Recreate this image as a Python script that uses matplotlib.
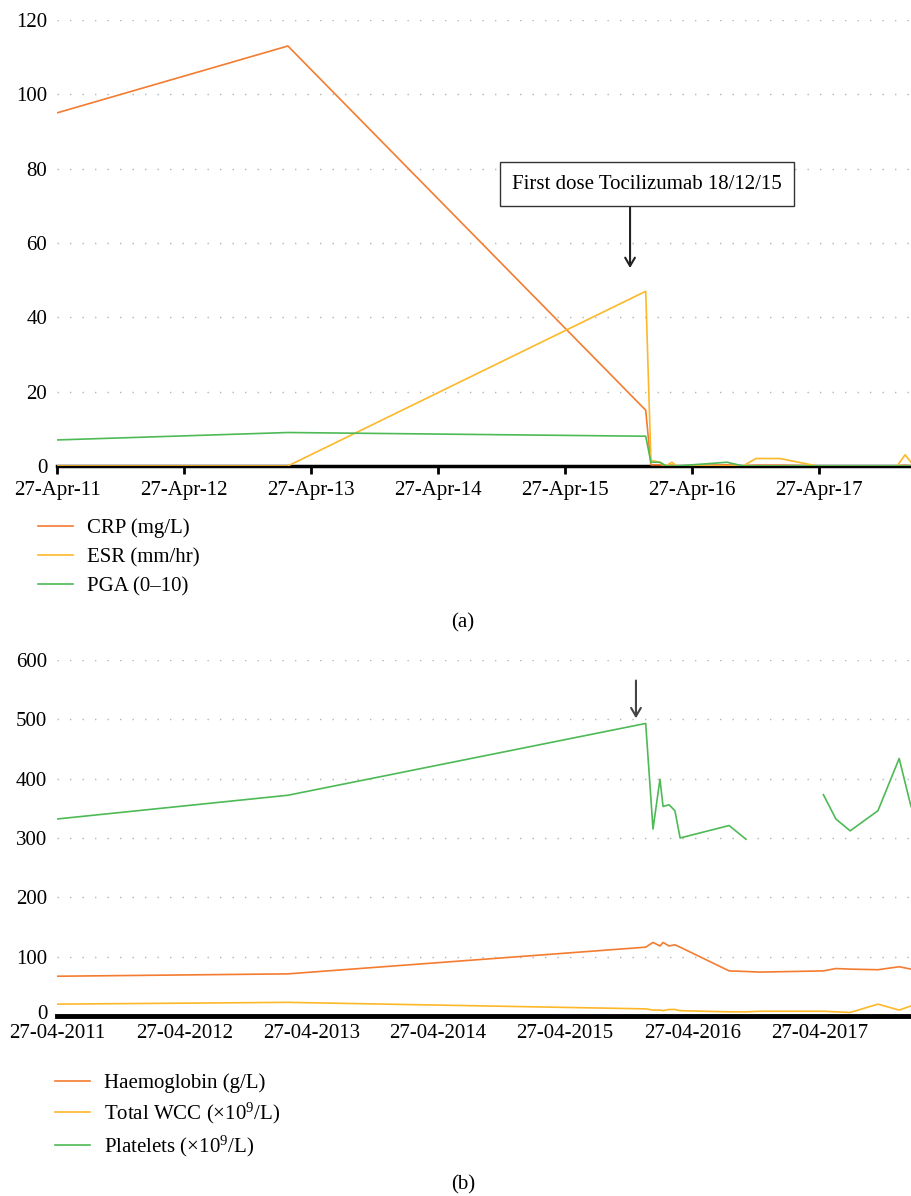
import matplotlib
matplotlib.use("Agg")
import matplotlib.pyplot as plt
import matplotlib.dates as mdates
import matplotlib.transforms as mtrans
import numpy as np
import pandas as pd

plt.rcParams["font.family"] = ["Liberation Serif", "DejaVu Serif"]
plt.rcParams["mathtext.fontset"] = "custom"
plt.rcParams["mathtext.rm"] = "Liberation Serif"
plt.rcParams["mathtext.it"] = "Liberation Serif:italic"

# (a) inflammatory markers
top_dates = ["2011-04-27", "2013-02-19", "2015-12-15", "2015-12-30", "2016-01-25", "2016-02-11",
             "2016-02-28", "2016-03-14", "2016-08-05", "2016-09-20", "2016-10-27", "2017-01-04",
             "2017-04-21", "2017-12-07", "2017-12-30", "2018-01-16"]
crp = [95, 113, 15, 0.3, 0.3, 0, 0.2, 0, 0.3, 0, 0.2, 0.2, 0, 0, 0.2, 0]
esr = [0, 0, 47, 1.5, 1, 0, 1, 0, 0, 0, 2, 2, 0, 0, 3, 1]
pga = [7, 9, 8, 1, 1, 0, 0, 0, 1, 0, 0, 0, 0, 0, 0, 0]

# (b) blood counts
bot_dates = ["2011-04-27", "2013-02-19", "2015-12-15", "2016-01-05", "2016-01-25", "2016-02-03",
             "2016-02-20", "2016-03-08", "2016-03-23", "2016-08-11", "2016-09-28", "2016-11-08",
             "2017-05-09", "2017-06-14", "2017-07-25", "2017-10-13", "2017-12-13", "2018-01-16"]
haemoglobin = [67, 71, 116, 124, 118, 124, 118, 120, 116, 76, 75, 74, 76, 80, 79, 78, 83, 79]
wcc = [20, 23, 12, 10, 10, 9, 11, 11, 9, 7, 7, 8, 8, 7, 6, 20, 10, 17]
platelets = [332, 372, 493, 315, 399, 353, 356, 346, 300, 321, 298, np.nan,
             373, 332, 312, 346, 434, 353]

tick_dates = ["2011-04-27", "2012-04-27", "2013-04-27", "2014-04-27",
              "2015-04-27", "2016-04-27", "2017-04-27"]

c_orange = "#f47c30"
c_yellow = "#fdb829"
c_green = "#4dba55"

top_x = pd.to_datetime(top_dates)
bot_x = pd.to_datetime(bot_dates)
ticks = pd.to_datetime(tick_dates)
x_lo = pd.Timestamp("2011-04-27")
x_hi = pd.Timestamp("2018-01-16")

fig = plt.figure(figsize=(9.11, 11.96), dpi=100)


def style_axis(ax, yticks, fmt):
    ax.set_xlim(x_lo, x_hi)
    ax.set_ylim(yticks[0], yticks[-1])
    ax.set_yticks(yticks)
    ax.set_xticks(ticks)
    ax.xaxis.set_major_formatter(mdates.DateFormatter(fmt))
    for s in ["left", "right", "top"]:
        ax.spines[s].set_visible(False)
    ax.grid(axis="y", color="#b5b5b5", linestyle=(0, (1, 8)), lw=1)
    ax.tick_params(axis="y", length=0, pad=7, labelsize=15)
    ax.set_axisbelow(True)


# ---- panel (a)
ax1 = fig.add_axes([0.0626, 0.6104, 0.9374, 0.3729])
ax1.plot(top_x, crp, color=c_orange, lw=1.2, label="CRP (mg/L)", zorder=3)
ax1.plot(top_x, esr, color=c_yellow, lw=1.2, label="ESR (mm/hr)", zorder=3)
ax1.plot(top_x, pga, color=c_green, lw=1.2, label="PGA (0\u201310)", zorder=3)
style_axis(ax1, list(range(0, 121, 20)), "%d-%b-%y")
ax1.spines["bottom"].set_linewidth(2.5)
ax1.tick_params(axis="x", length=6, width=2, pad=5, labelsize=15)

ax1.text(pd.Timestamp("2015-12-19"), 75.8, "First dose Tocilizumab 18/12/15", fontsize=15,
         ha="center", va="center",
         bbox=dict(boxstyle="square,pad=0.6", fc="white", ec="#333333", lw=1))
ax1.annotate("", xy=(pd.Timestamp("2015-10-31"), 52.5), xytext=(pd.Timestamp("2015-10-31"), 70.3),
             arrowprops=dict(arrowstyle="->,head_length=0.6,head_width=0.35", color="#222222", lw=1.5))

fig.legend(handles=ax1.get_lines(), loc="upper left", bbox_to_anchor=(0.0417, 0.5665),
           frameon=False, fontsize=15, handlelength=1.7, handletextpad=0.65,
           labelspacing=0.45, borderpad=0, borderaxespad=0)
fig.text(0.508, 0.4795, "(a)", fontsize=15, ha="center", va="center")

# ---- panel (b)
ax2 = fig.add_axes([0.0626, 0.1505, 0.9374, 0.2977])
ax2.plot(bot_x, haemoglobin, color=c_orange, lw=1.2, label="Haemoglobin (g/L)", zorder=3)
ax2.plot(bot_x, wcc, color=c_yellow, lw=1.2, label="Total WCC (\u00d710$^{9}$/L)", zorder=3)
ax2.plot(bot_x, platelets, color=c_green, lw=1.2, label="Platelets (\u00d710$^{9}$/L)", zorder=3)
style_axis(ax2, list(range(0, 601, 100)), "%d-%m-%Y")
ax2.spines["bottom"].set_linewidth(3.5)
ax2.tick_params(axis="x", length=0, pad=6, labelsize=15)
# nudge the "0" label up a little so it clears the date labels
zero_lab = ax2.get_yticklabels()[0]
zero_lab.set_transform(zero_lab.get_transform() + mtrans.ScaledTranslation(0, 3 / 72, fig.dpi_scale_trans))

ax2.annotate("", xy=(pd.Timestamp("2015-11-17"), 497), xytext=(pd.Timestamp("2015-11-17"), 570),
             arrowprops=dict(arrowstyle="->,head_length=0.6,head_width=0.35", color="#444444", lw=1.5))

fig.legend(handles=ax2.get_lines(), loc="upper left", bbox_to_anchor=(0.0604, 0.1025),
           frameon=False, fontsize=15, handlelength=1.7, handletextpad=0.65,
           labelspacing=0.38, borderpad=0, borderaxespad=0)
fig.text(0.508, 0.0092, "(b)", fontsize=15, ha="center", va="center")

fig.savefig("out.png", dpi=100)
